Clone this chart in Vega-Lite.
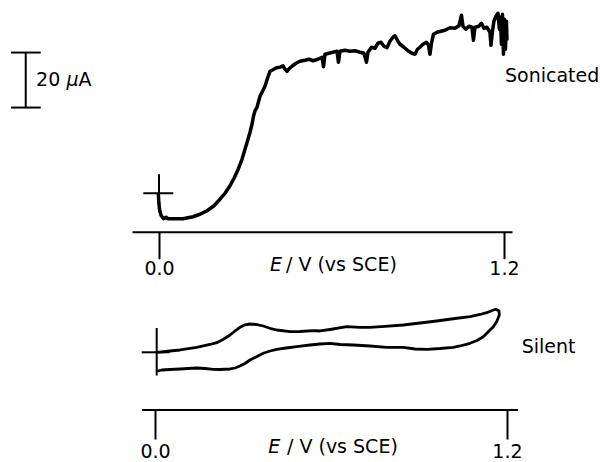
{
  "$schema": "https://vega.github.io/schema/vega-lite/v6.json",
  "background": "white",
  "autosize": {"type": "pad"},
  "padding": {"left": 10, "top": 9, "right": 0, "bottom": 0},
  "bounds": "flush",
  "spacing": 58,
  "config": {"view": {"stroke": null}, "font": "DejaVu Sans"},
  "datasets": {
    "sonicated": [
      {"i": 1, "E": -0.0024, "I": -0.36}, {"i": 2, "E": -0.0007, "I": -3.27}, {"i": 3, "E": 0.0017, "I": -5.82},
      {"i": 4, "E": 0.007, "I": -8.0}, {"i": 5, "E": 0.0157, "I": -9.27}, {"i": 6, "E": 0.0243, "I": -8.73},
      {"i": 7, "E": 0.0313, "I": -9.27}, {"i": 8, "E": 0.0557, "I": -9.27}, {"i": 9, "E": 0.0835, "I": -9.27},
      {"i": 10, "E": 0.1183, "I": -8.55}, {"i": 11, "E": 0.1426, "I": -7.64}, {"i": 12, "E": 0.167, "I": -6.36},
      {"i": 13, "E": 0.1913, "I": -4.55}, {"i": 14, "E": 0.2122, "I": -2.18}, {"i": 15, "E": 0.2296, "I": 0.0},
      {"i": 16, "E": 0.247, "I": 2.73}, {"i": 17, "E": 0.2609, "I": 5.45}, {"i": 18, "E": 0.2748, "I": 8.55},
      {"i": 19, "E": 0.2887, "I": 12.36}, {"i": 20, "E": 0.2991, "I": 16.0}, {"i": 21, "E": 0.3096, "I": 19.64},
      {"i": 22, "E": 0.3165, "I": 22.18}, {"i": 23, "E": 0.3235, "I": 25.09}, {"i": 24, "E": 0.3287, "I": 28.0},
      {"i": 25, "E": 0.3339, "I": 30.0}, {"i": 26, "E": 0.3409, "I": 31.27}, {"i": 27, "E": 0.3513, "I": 35.27},
      {"i": 28, "E": 0.36, "I": 37.09}, {"i": 29, "E": 0.3687, "I": 38.91}, {"i": 30, "E": 0.3774, "I": 41.82},
      {"i": 31, "E": 0.3861, "I": 44.36}, {"i": 32, "E": 0.3965, "I": 44.91}, {"i": 33, "E": 0.4087, "I": 45.64},
      {"i": 34, "E": 0.4209, "I": 45.82}, {"i": 35, "E": 0.4313, "I": 46.36}, {"i": 36, "E": 0.4383, "I": 45.09},
      {"i": 37, "E": 0.4452, "I": 44.36}, {"i": 38, "E": 0.4539, "I": 45.45}, {"i": 39, "E": 0.4626, "I": 46.18},
      {"i": 40, "E": 0.4765, "I": 47.27}, {"i": 41, "E": 0.4904, "I": 48.0}, {"i": 42, "E": 0.5078, "I": 48.36},
      {"i": 43, "E": 0.5217, "I": 48.73}, {"i": 44, "E": 0.5357, "I": 48.18}, {"i": 45, "E": 0.553, "I": 48.73},
      {"i": 46, "E": 0.567, "I": 49.45}, {"i": 47, "E": 0.5722, "I": 46.0}, {"i": 48, "E": 0.5774, "I": 50.55},
      {"i": 49, "E": 0.5913, "I": 50.91}, {"i": 50, "E": 0.6052, "I": 51.27}, {"i": 51, "E": 0.6191, "I": 51.64},
      {"i": 52, "E": 0.6243, "I": 47.64}, {"i": 53, "E": 0.6296, "I": 51.64}, {"i": 54, "E": 0.647, "I": 52.0},
      {"i": 55, "E": 0.6643, "I": 51.64}, {"i": 56, "E": 0.6817, "I": 51.82}, {"i": 57, "E": 0.6991, "I": 51.27},
      {"i": 58, "E": 0.713, "I": 50.91}, {"i": 59, "E": 0.7217, "I": 47.64}, {"i": 60, "E": 0.727, "I": 51.27},
      {"i": 61, "E": 0.7391, "I": 53.09}, {"i": 62, "E": 0.7513, "I": 52.73}, {"i": 63, "E": 0.7617, "I": 54.55},
      {"i": 64, "E": 0.7722, "I": 54.91}, {"i": 65, "E": 0.7826, "I": 53.45}, {"i": 66, "E": 0.793, "I": 52.91},
      {"i": 67, "E": 0.8035, "I": 55.27}, {"i": 68, "E": 0.8139, "I": 56.73}, {"i": 69, "E": 0.8209, "I": 57.27},
      {"i": 70, "E": 0.8313, "I": 55.27}, {"i": 71, "E": 0.8383, "I": 54.18}, {"i": 72, "E": 0.8522, "I": 53.09},
      {"i": 73, "E": 0.8661, "I": 51.82}, {"i": 74, "E": 0.88, "I": 50.91}, {"i": 75, "E": 0.8904, "I": 50.55},
      {"i": 76, "E": 0.8991, "I": 52.36}, {"i": 77, "E": 0.9078, "I": 53.09}, {"i": 78, "E": 0.9183, "I": 54.18},
      {"i": 79, "E": 0.9304, "I": 54.91}, {"i": 80, "E": 0.9374, "I": 53.82}, {"i": 81, "E": 0.9426, "I": 50.55},
      {"i": 82, "E": 0.9478, "I": 54.55}, {"i": 83, "E": 0.9548, "I": 57.82}, {"i": 84, "E": 0.967, "I": 58.55},
      {"i": 85, "E": 0.9809, "I": 58.91}, {"i": 86, "E": 0.9948, "I": 59.27}, {"i": 87, "E": 1.0122, "I": 60.18},
      {"i": 88, "E": 1.0296, "I": 60.0}, {"i": 89, "E": 1.0435, "I": 60.91}, {"i": 90, "E": 1.0522, "I": 64.73},
      {"i": 91, "E": 1.0574, "I": 60.73}, {"i": 92, "E": 1.0678, "I": 59.64}, {"i": 93, "E": 1.0783, "I": 60.73},
      {"i": 94, "E": 1.0887, "I": 60.36}, {"i": 95, "E": 1.0939, "I": 55.64}, {"i": 96, "E": 1.0991, "I": 60.36},
      {"i": 97, "E": 1.113, "I": 60.73}, {"i": 98, "E": 1.1217, "I": 61.82}, {"i": 99, "E": 1.1304, "I": 60.0},
      {"i": 100, "E": 1.1409, "I": 60.36}, {"i": 101, "E": 1.1513, "I": 58.55}, {"i": 102, "E": 1.1548, "I": 53.82},
      {"i": 103, "E": 1.16, "I": 58.91}, {"i": 104, "E": 1.1652, "I": 62.55}, {"i": 105, "E": 1.1722, "I": 64.36},
      {"i": 106, "E": 1.1791, "I": 65.45}, {"i": 107, "E": 1.1843, "I": 59.64}, {"i": 108, "E": 1.1878, "I": 64.0},
      {"i": 109, "E": 1.1913, "I": 54.18}, {"i": 110, "E": 1.1948, "I": 65.09}, {"i": 111, "E": 1.1983, "I": 50.55},
      {"i": 112, "E": 1.2017, "I": 63.27}, {"i": 113, "E": 1.2052, "I": 52.36}, {"i": 114, "E": 1.2087, "I": 62.55},
      {"i": 115, "E": 1.2104, "I": 56.0}, {"i": 116, "E": 1.2035, "I": 58.55}
    ],
    "silent": [
      {"i": 1, "E": 0.0068, "I": 0.0}, {"i": 2, "E": 0.0511, "I": 0.47}, {"i": 3, "E": 0.0852, "I": 0.84},
      {"i": 4, "E": 0.1422, "I": 1.82}, {"i": 5, "E": 0.1875, "I": 2.84}, {"i": 6, "E": 0.2104, "I": 3.49},
      {"i": 7, "E": 0.2319, "I": 4.65}, {"i": 8, "E": 0.2557, "I": 6.29}, {"i": 9, "E": 0.2728, "I": 7.75},
      {"i": 10, "E": 0.2898, "I": 9.09}, {"i": 11, "E": 0.3068, "I": 10.0}, {"i": 12, "E": 0.3239, "I": 10.29},
      {"i": 13, "E": 0.3443, "I": 10.11}, {"i": 14, "E": 0.3692, "I": 9.56}, {"i": 15, "E": 0.3921, "I": 8.73},
      {"i": 16, "E": 0.4149, "I": 8.11}, {"i": 17, "E": 0.4603, "I": 7.49}, {"i": 18, "E": 0.4944, "I": 7.56},
      {"i": 19, "E": 0.5397, "I": 7.85}, {"i": 20, "E": 0.5626, "I": 7.75}, {"i": 21, "E": 0.5967, "I": 8.29},
      {"i": 22, "E": 0.6536, "I": 9.31}, {"i": 23, "E": 0.699, "I": 9.09}, {"i": 24, "E": 0.733, "I": 9.09},
      {"i": 25, "E": 0.7842, "I": 9.45}, {"i": 26, "E": 0.8466, "I": 9.93}, {"i": 27, "E": 0.9035, "I": 10.65},
      {"i": 28, "E": 0.9604, "I": 11.38}, {"i": 29, "E": 1.0228, "I": 12.29}, {"i": 30, "E": 1.074, "I": 12.95},
      {"i": 31, "E": 1.1081, "I": 13.75}, {"i": 32, "E": 1.1309, "I": 14.4}, {"i": 33, "E": 1.149, "I": 15.2},
      {"i": 34, "E": 1.1626, "I": 15.64}, {"i": 35, "E": 1.1729, "I": 15.02}, {"i": 36, "E": 1.1739, "I": 13.56},
      {"i": 37, "E": 1.166, "I": 11.38}, {"i": 38, "E": 1.1534, "I": 9.31}, {"i": 39, "E": 1.1353, "I": 7.38},
      {"i": 40, "E": 1.1193, "I": 5.67}, {"i": 41, "E": 1.0978, "I": 4.29}, {"i": 42, "E": 1.074, "I": 3.27},
      {"i": 43, "E": 1.0399, "I": 2.29}, {"i": 44, "E": 1.017, "I": 1.82}, {"i": 45, "E": 0.9717, "I": 1.38},
      {"i": 46, "E": 0.9263, "I": 1.09}, {"i": 47, "E": 0.8865, "I": 1.2}, {"i": 48, "E": 0.8466, "I": 1.82},
      {"i": 49, "E": 0.79, "I": 1.82}, {"i": 50, "E": 0.733, "I": 2.29}, {"i": 51, "E": 0.6761, "I": 2.65},
      {"i": 52, "E": 0.6308, "I": 2.84}, {"i": 53, "E": 0.5967, "I": 3.27}, {"i": 54, "E": 0.5626, "I": 3.02},
      {"i": 55, "E": 0.5285, "I": 2.65}, {"i": 56, "E": 0.4831, "I": 2.04}, {"i": 57, "E": 0.4466, "I": 1.56},
      {"i": 58, "E": 0.4149, "I": 1.09}, {"i": 59, "E": 0.3921, "I": 0.47}, {"i": 60, "E": 0.3692, "I": -0.36},
      {"i": 61, "E": 0.3443, "I": -1.71}, {"i": 62, "E": 0.3239, "I": -2.8}, {"i": 63, "E": 0.3068, "I": -4.07},
      {"i": 64, "E": 0.2898, "I": -4.98}, {"i": 65, "E": 0.2728, "I": -5.71}, {"i": 66, "E": 0.2557, "I": -6.07},
      {"i": 67, "E": 0.2216, "I": -6.25}, {"i": 68, "E": 0.1988, "I": -6.18}, {"i": 69, "E": 0.1705, "I": -5.89},
      {"i": 70, "E": 0.1422, "I": -5.71}, {"i": 71, "E": 0.1125, "I": -5.89}, {"i": 72, "E": 0.0852, "I": -6.07},
      {"i": 73, "E": 0.0511, "I": -6.25}, {"i": 74, "E": 0.0228, "I": -6.44}, {"i": 75, "E": 0.0102, "I": -6.8}
    ],
    "topRules": [
      {"E": -0.0546, "E2": 0.0497, "I": 0, "I2": 0},
      {"E": 0, "E2": 0, "I": 6.91, "I2": -6.91},
      {"E": -0.4637, "E2": -0.4637, "I": 31.16, "I2": 51.16},
      {"E": -0.5148, "E2": -0.4115, "I": 51.16, "I2": 51.16},
      {"E": -0.5148, "E2": -0.4115, "I": 31.16, "I2": 31.16}
    ],
    "bottomRules": [
      {"E": -0.0453, "E2": 0.05, "I": 0, "I2": 0},
      {"E": 0.0058, "E2": 0.0058, "I": 8.84, "I2": -8.44},
      {"E": -0.0443, "E2": 1.2376, "I": -20.98, "I2": -20.98}
    ],
    "topText": [
      {"E": -0.4278, "I": 41.16, "label": "20"},
      {"E": -0.28, "I": 41.16, "label": "A"},
      {"E": 1.2035, "I": 42.55, "label": "Sonicated"},
      {"E": 0.4417, "I": -26.18, "label": "/ V (vs SCE)"}
    ],
    "topItalic": [
      {"E": -0.3217, "I": 41.16, "label": "μ"},
      {"E": 0.3861, "I": -26.18, "label": "E"}
    ],
    "bottomText": [
      {"E": 1.2503, "I": 2.04, "label": "Silent"},
      {"E": 0.45, "I": -34.44, "label": "/ V (vs SCE)"}
    ],
    "bottomItalic": [
      {"E": 0.3863, "I": -34.44, "label": "E"}
    ]
  },
  "vconcat": [
    {
      "width": 380,
      "height": 222.75,
      "encoding": {
        "x": {"field": "E", "type": "quantitative",
          "scale": {"domain": [-0.094, 1.228], "nice": false, "zero": false},
          "axis": {"values": [0, 1.2], "format": ".1f", "title": null, "grid": false,
            "domainColor": "black", "domainWidth": 2, "tickColor": "black", "tickWidth": 2, "tickSize": 27,
            "labelFont": "DejaVu Sans", "labelFontSize": 19, "labelColor": "black", "labelPadding": 1,
            "labelFlush": false, "labelOverlap": false}},
        "y": {"field": "I", "type": "quantitative",
          "scale": {"domain": [-14, 67], "nice": false, "zero": false}, "axis": null}
      },
      "layer": [
        {"data": {"name": "sonicated"},
         "mark": {"type": "line", "color": "black", "strokeWidth": 3.5, "strokeJoin": "round", "strokeCap": "round"},
         "encoding": {"order": {"field": "i", "type": "quantitative"}}},
        {"data": {"name": "topRules"},
         "mark": {"type": "rule", "color": "black", "strokeWidth": 2},
         "encoding": {"x2": {"field": "E2"}, "y2": {"field": "I2"}}},
        {"data": {"name": "topText"},
         "mark": {"type": "text", "align": "left", "baseline": "middle", "fontSize": 19, "font": "DejaVu Sans", "color": "black"},
         "encoding": {"text": {"field": "label"}}},
        {"data": {"name": "topItalic"},
         "mark": {"type": "text", "align": "left", "baseline": "middle", "fontSize": 19, "font": "DejaVu Sans", "fontStyle": "italic", "color": "black"},
         "encoding": {"text": {"field": "label"}}}
      ]
    },
    {
      "width": 386,
      "height": 120,
      "encoding": {
        "x": {"field": "E", "type": "quantitative",
          "scale": {"domain": [-0.0784, 1.2376], "nice": false, "zero": false},
          "axis": {"values": [0, 1.2], "format": ".1f", "title": null, "grid": false, "domain": false,
            "tickColor": "black", "tickWidth": 2, "tickSize": 29,
            "labelFont": "DejaVu Sans", "labelFontSize": 19, "labelColor": "black", "labelPadding": 3,
            "labelFlush": false, "labelOverlap": false}},
        "y": {"field": "I", "type": "quantitative",
          "scale": {"domain": [-20.98, 22.65], "nice": false, "zero": false}, "axis": null}
      },
      "layer": [
        {"data": {"name": "silent"},
         "mark": {"type": "line", "color": "black", "strokeWidth": 2.8, "strokeJoin": "round", "strokeCap": "round"},
         "encoding": {"order": {"field": "i", "type": "quantitative"}}},
        {"data": {"name": "bottomRules"},
         "mark": {"type": "rule", "color": "black", "strokeWidth": 2},
         "encoding": {"x2": {"field": "E2"}, "y2": {"field": "I2"}}},
        {"data": {"name": "bottomText"},
         "mark": {"type": "text", "align": "left", "baseline": "middle", "fontSize": 19, "font": "DejaVu Sans", "color": "black"},
         "encoding": {"text": {"field": "label"}}},
        {"data": {"name": "bottomItalic"},
         "mark": {"type": "text", "align": "left", "baseline": "middle", "fontSize": 19, "font": "DejaVu Sans", "fontStyle": "italic", "color": "black"},
         "encoding": {"text": {"field": "label"}}}
      ]
    }
  ]
}
